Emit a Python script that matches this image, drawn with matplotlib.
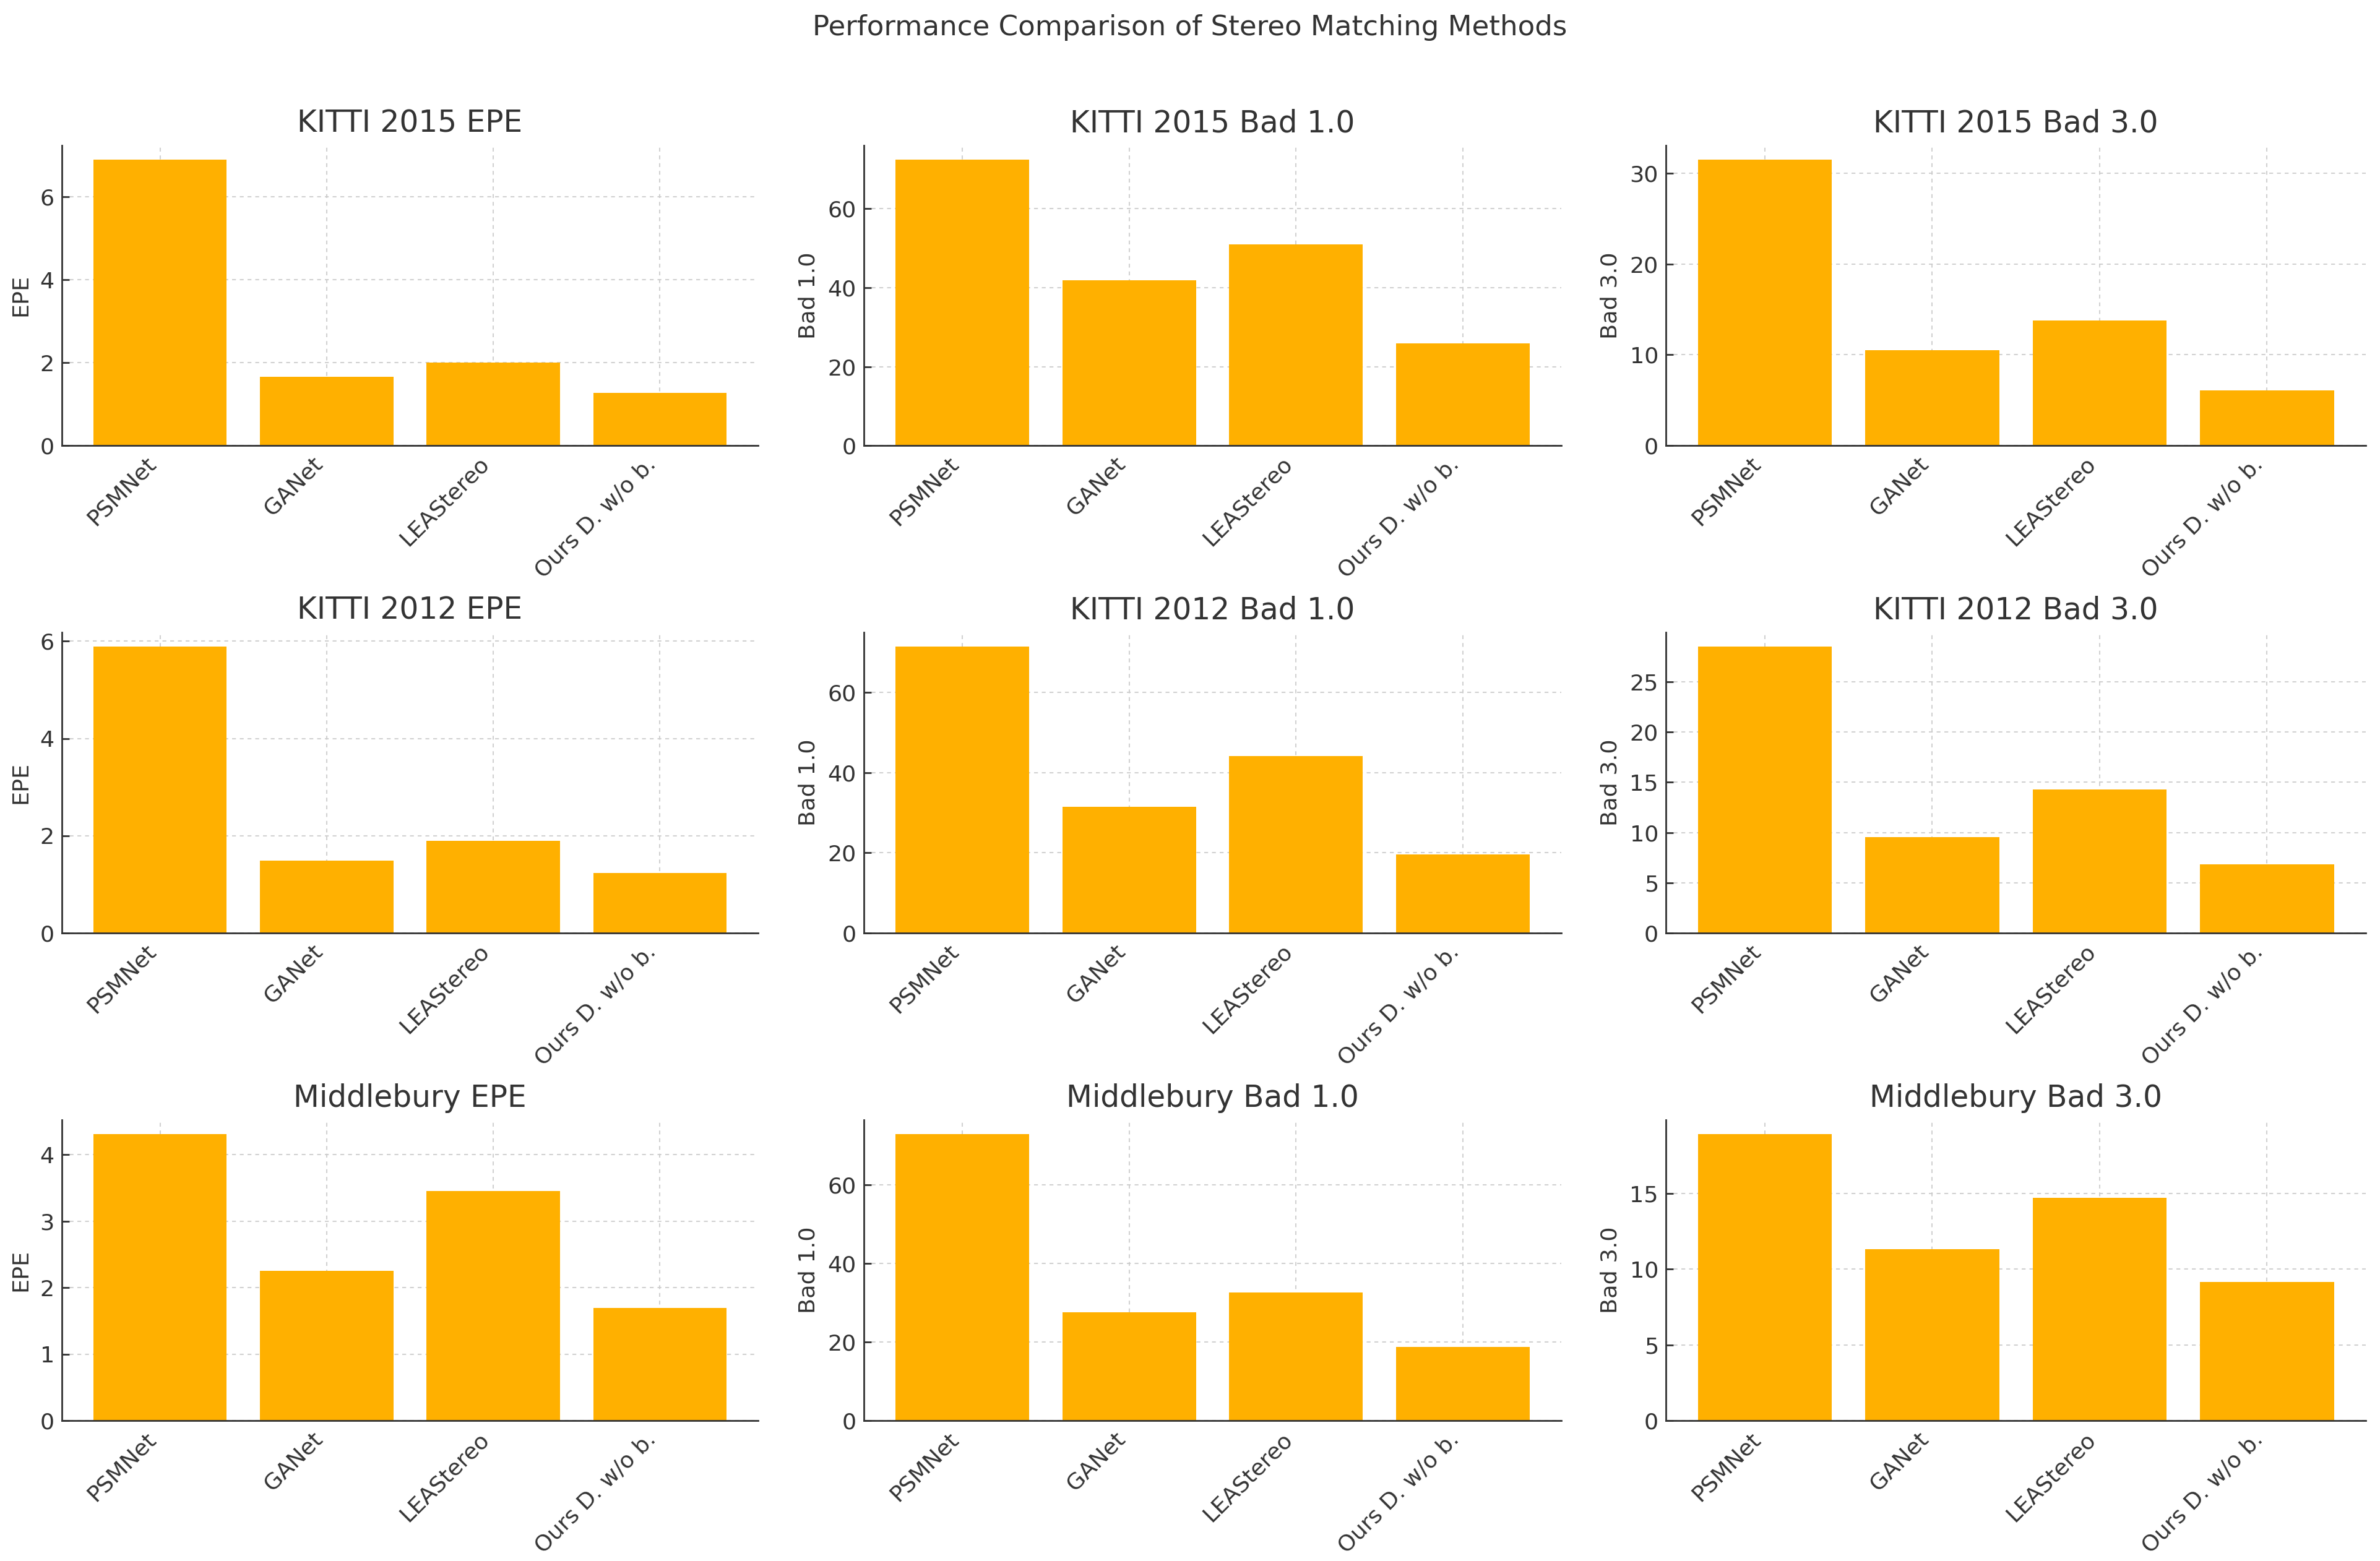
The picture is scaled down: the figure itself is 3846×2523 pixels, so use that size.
import matplotlib.pyplot as plt

# ── Data ─────────────────────────────────────────────────────────────────────

METHODS = ["PSMNet", "GANet", "LEAStereo", "Ours D. w/o b."]

KITTI15_EPE  = [6.90, 1.66, 2.00, 1.27]
KITTI15_BAD1 = [72.5, 41.9, 51.0, 25.9]
KITTI15_BAD3 = [31.5, 10.5, 13.8, 6.1]

KITTI12_EPE  = [5.89, 1.49, 1.90, 1.23]
KITTI12_BAD1 = [71.5, 31.5, 44.1, 19.6]
KITTI12_BAD3 = [28.5, 9.55, 14.3, 6.84]

MIDDLE_EPE  = [4.31, 2.26, 3.46, 1.70]
MIDDLE_BAD1 = [72.8, 27.5, 32.6, 18.8]
MIDDLE_BAD3 = [18.9, 11.3, 14.7, 9.14]

DATASETS = ["KITTI 2015", "KITTI 2012", "Middlebury"]
METRICS  = ["EPE", "Bad 1.0", "Bad 3.0"]

VALUES = [
    [KITTI15_EPE, KITTI15_BAD1, KITTI15_BAD3],
    [KITTI12_EPE, KITTI12_BAD1, KITTI12_BAD3],
    [MIDDLE_EPE,  MIDDLE_BAD1,  MIDDLE_BAD3],
]

# ── Layout ───────────────────────────────────────────────────────────────────

BAR_COLOR  = "#FFB000"
TEXT_COLOR = "#333333"

COL_X = [(0.026, 0.3185), (0.363, 0.656), (0.700, 0.994)]
ROW_Y = [(0.7146, 0.907), (0.4023, 0.595), (0.0898, 0.2826)]

fig = plt.figure(figsize=(15.384, 10.092), dpi=250)

for r, dataset in enumerate(DATASETS):
    for c, metric in enumerate(METRICS):
        x0, x1 = COL_X[c]
        y0, y1 = ROW_Y[r]
        ax = fig.add_axes([x0, y0, x1 - x0, y1 - y0])
        ax.bar(METHODS, VALUES[r][c], color=BAR_COLOR, width=0.8, zorder=2)

        ax.set_title(f"{dataset} {metric}", fontsize=14, color=TEXT_COLOR)
        ax.set_ylabel(metric, fontsize=10.5, color=TEXT_COLOR)
        ax.set_xticks(range(len(METHODS)))
        ax.set_xticklabels(METHODS, rotation=45, ha="right", fontsize=10.5,
                           color=TEXT_COLOR)
        ax.tick_params(axis="both", direction="in", labelsize=10.5,
                       labelcolor=TEXT_COLOR, color="#333333")

        ax.grid(True, linestyle=(0, (3, 3)), color="#cccccc", linewidth=0.6,
                alpha=0.9, zorder=0)
        ax.set_axisbelow(True)

        ax.spines["top"].set_visible(False)
        ax.spines["right"].set_visible(False)
        ax.spines["left"].set_color("#333333")
        ax.spines["bottom"].set_color("#333333")

fig.suptitle("Performance Comparison of Stereo Matching Methods",
             fontsize=13, color=TEXT_COLOR, y=0.991)

fig.savefig("out.png", dpi=250)
